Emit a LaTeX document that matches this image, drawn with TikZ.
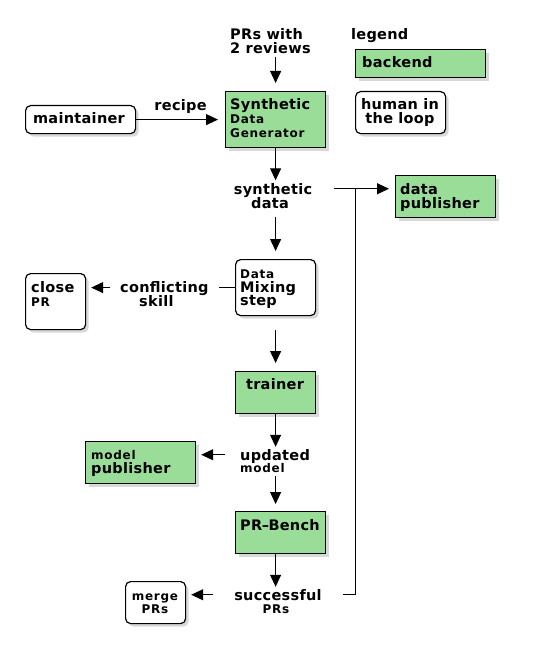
\documentclass[tikz,border=0pt]{standalone}
\usepackage{fontspec}
\setmainfont{DejaVu Sans}
\newfontfamily\bigfnt{DejaVu Sans}[LetterSpace=2]
\newfontfamily\smallfnt{DejaVu Sans}[LetterSpace=6]
\usepackage{xcolor}
\usetikzlibrary{arrows.meta, positioning, shadows, calc}
\definecolor{backendgreen}{RGB}{153,221,153}

\newcommand{\bigtext}{\bigfnt\bfseries\fontsize{14.5}{14}\selectfont}
\newcommand{\smalltext}{\smallfnt\bfseries\fontsize{12}{14}\selectfont}

\tikzset{
  box/.style={draw, line width=1.2pt, anchor=north west, inner sep=0pt,
    drop shadow={shadow xshift=3pt, shadow yshift=-3pt, opacity=0.3}},
  gbox/.style={box, fill=backendgreen},
  hbox/.style={box, fill=white, rounded corners=5pt},
  big/.style={inner sep=0pt, font=\bigtext, text height=10.5pt, text depth=0pt},
  small/.style={inner sep=0pt, font=\smalltext, text height=8.5pt, text depth=0pt},
  arr/.style={-{Triangle[length=12pt,width=11pt]}, line width=1pt},
  wire/.style={line width=1pt},
}

\begin{document}
\begin{tikzpicture}[x=1pt, y=-1pt]
  \path[use as bounding box, fill=white] (0,0) rectangle (540,658);

  % legend
  \node[big, anchor=base west] (legend) at (351,40) {legend};
  \node[gbox, minimum width=130, minimum height=28] (backend) at (355,49) {};
  \node[big, anchor=base west] (backend-t) at (362,68) {backend};
  \node[hbox, minimum width=90, minimum height=42] (human) at (355,91) {};
  \node[big, anchor=base] (human-t1) at (400,110) {human in};
  \node[big, anchor=base] (human-t2) at (400,124) {the loop};

  % inputs and generator
  \node[big, anchor=base west] (prs1) at (230,40) {PRs with};
  \node[big, anchor=base west] (prs2) at (230,54) {2 reviews};
  \node[hbox, minimum width=110, minimum height=28] (maint) at (25,105) {};
  \node[big, anchor=base] (maint-t) at (79,124) {maintainer};
  \node[gbox, minimum width=100, minimum height=56] (sdg) at (225,91) {};
  \node[big, anchor=base west] (sdg-t1) at (230,110) {Synthetic};
  \node[small, anchor=base west] (sdg-t2) at (230,124) {Data};
  \node[small, anchor=base west] (sdg-t3) at (230,137) {Generator};

  % synthetic data
  \node[big, anchor=base, inner xsep=22pt] (syn) at (273,194) {synthetic};
  \node[big, anchor=base] (syn-d) at (270,208) {data};
  \coordinate (jn) at (355,189);
  \node[gbox, minimum width=100, minimum height=42] (dpub) at (395,175) {};
  \node[big, anchor=base west] (dpub-t1) at (400,194) {data};
  \node[big, anchor=base west] (dpub-t2) at (400,208) {publisher};

  % mixing
  \node[hbox, minimum width=80, minimum height=56] (dms) at (235,259) {};
  \node[small, anchor=base west] (dms-t1) at (240,278) {Data};
  \node[big, anchor=base west] (dms-t2) at (240,292) {Mixing};
  \node[big, anchor=base west] (dms-t3) at (240,305) {step};
  \node[big, anchor=base west, inner xsep=10pt] (conf) at (110,292) {conflicting};
  \node[big, anchor=base west] (conf-s) at (139,306) {skill};
  \node[hbox, minimum width=60, minimum height=56] (close) at (25,273) {};
  \node[big, anchor=base west] (close-t1) at (31,292) {close};
  \node[small, anchor=base west] (close-t2) at (31,306) {PR};

  % training
  \node[gbox, minimum width=80, minimum height=42] (trainer) at (235,371) {};
  \node[big, anchor=base] (trainer-t) at (275,389) {trainer};
  \node[big, anchor=base west, inner xsep=15pt] (upd) at (225,460) {updated};
  \node[small, anchor=base west] (upd-m) at (240,472) {model};
  \node[gbox, minimum width=110, minimum height=42] (mpub) at (85,441) {};
  \node[small, anchor=base west] (mpub-t1) at (91,459) {model};
  \node[big, anchor=base west] (mpub-t2) at (91,473) {publisher};

  % benchmark
  \node[gbox, minimum width=90, minimum height=42] (prb) at (235,511) {};
  \node[big, anchor=base west] (prb-t) at (240,530) {PR\kern-.5pt–\kern-.5pt Bench};
  \node[big, anchor=base, inner xsep=21pt] (succ) at (278,600) {successful};
  \node[small, anchor=base] (succ-p) at (276,613) {PRs};
  \node[hbox, minimum width=60, minimum height=42] (merge) at (125,581) {};
  \node[small, anchor=base] (merge-t1) at (155,600) {merge};
  \node[small, anchor=base] (merge-t2) at (155,613) {PRs};

  % connectors
  \draw[arr, shorten <=3pt, shorten >=8pt] (sdg.north |- prs2.south) -- (sdg.north);
  \draw[arr, shorten >=7pt] (maint) -- node[big, anchor=base, yshift=9pt] (recipe) {recipe} (sdg);
  \draw[arr, shorten >=3pt] (sdg) -- (sdg.south |- syn.north);
  \draw[arr, shorten >=6pt] (syn.east) -- (syn.east -| dpub.west);
  \draw[wire] (succ.east) -- (succ.east -| jn) -- (jn);
  \draw[arr, shorten <=9pt, shorten >=8pt] (dms.north |- syn-d.south) -- (dms);
  \draw[wire] (dms.west) -- (dms.west -| conf.east);
  \draw[arr, shorten >=5pt] (dms.west -| conf.west) -- (dms.west -| close.east);
  \draw[arr, shorten <=14pt, shorten >=8pt] (dms) -- (trainer);
  \draw[arr, shorten >=2.5pt] (trainer) -- (trainer.south |- upd.north);
  \draw[arr, shorten >=5pt] (upd.west) -- (upd.west -| mpub.east);
  \draw[arr, shorten <=4pt, shorten >=7pt] (trainer.south |- upd-m.south) -- (trainer.south |- prb.north);
  \draw[arr, shorten >=2.5pt] (trainer.south |- prb.south) -- (trainer.south |- succ.north);
  \draw[arr, shorten >=5pt] (succ.west) -- (succ.west -| merge.east);
\end{tikzpicture}
\end{document}
